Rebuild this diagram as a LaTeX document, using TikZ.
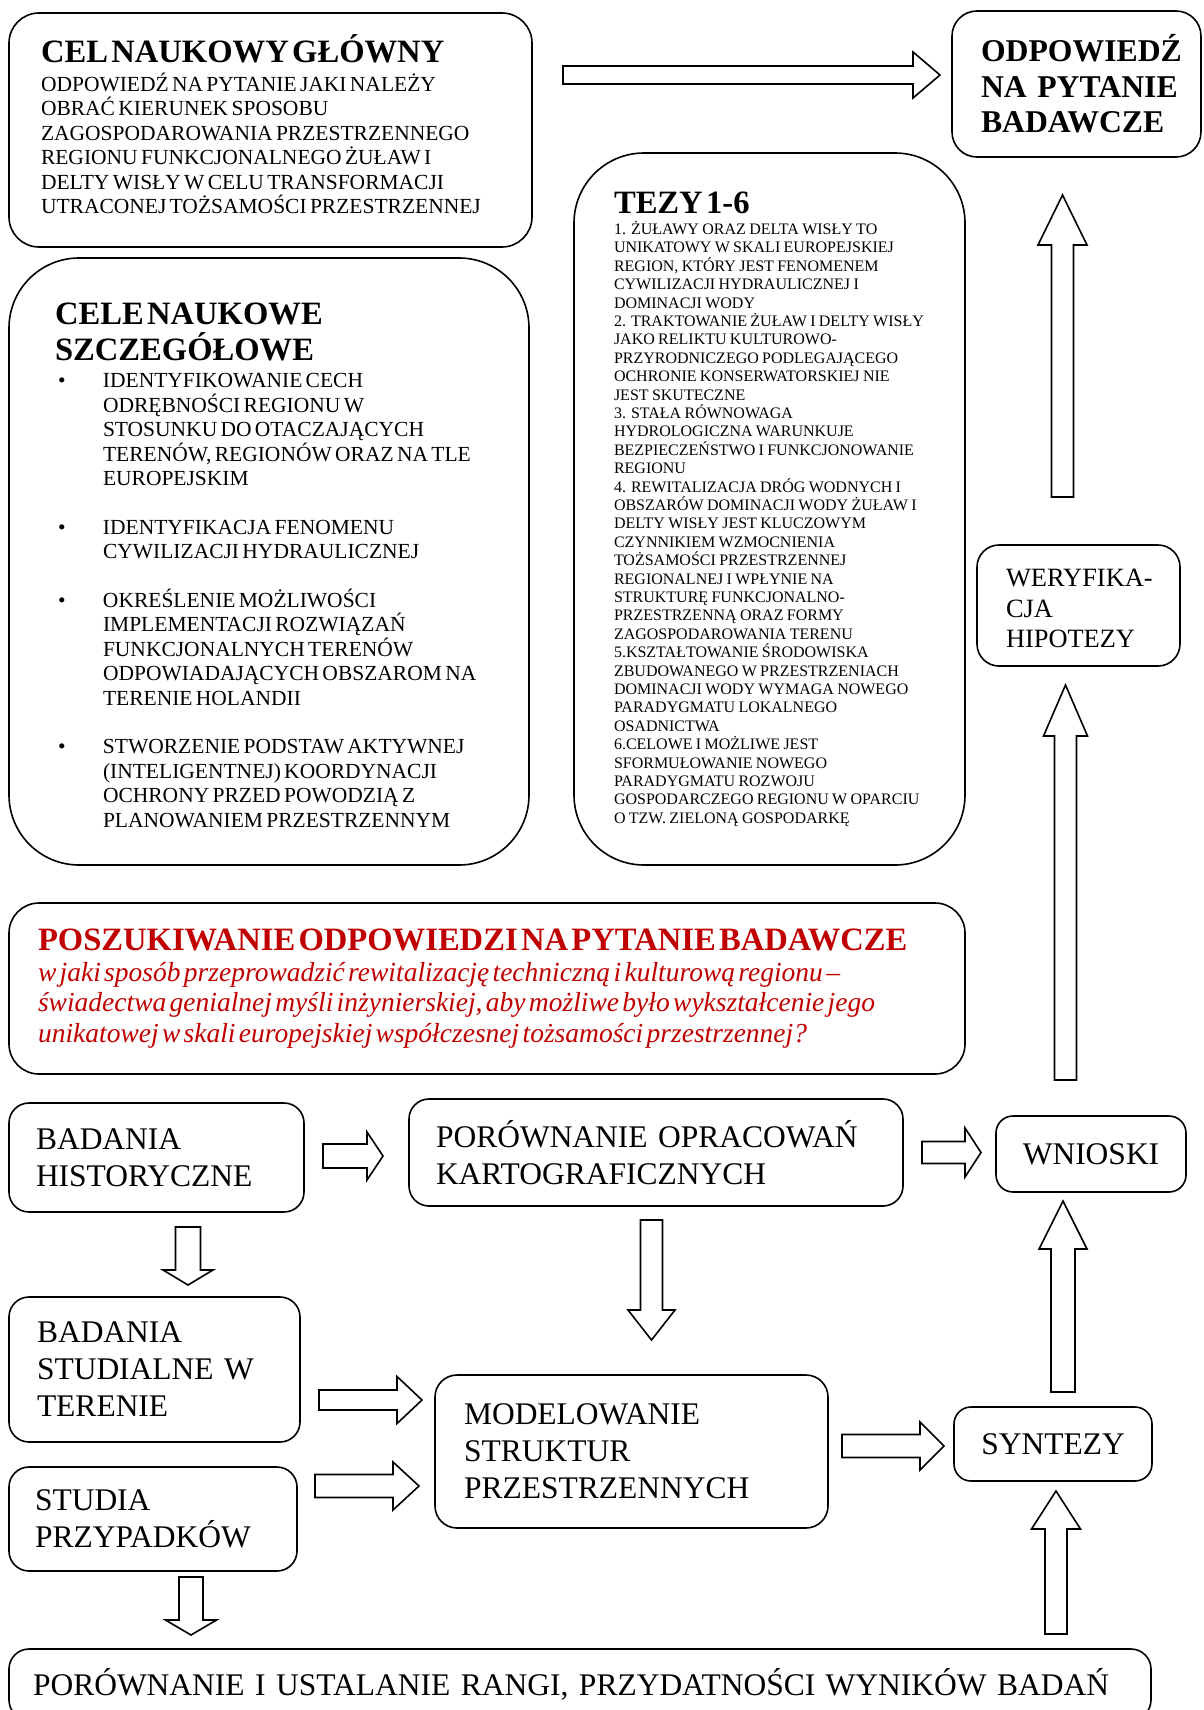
\documentclass[tikz,border=0pt]{standalone}
\usepackage{fontspec}
\setmainfont{Liberation Serif}
\usetikzlibrary{calc}
\definecolor{czerwony}{RGB}{192,0,0}
\newcommand\tytul{\fontsize{32.6}{35.5}\selectfont\bfseries}
\newcommand\odpfont{\fontsize{31.7}{35.5}\selectfont\bfseries}
\newcommand\srednia{\fontsize{21.5}{24.4}\selectfont}
\newcommand\drobna{\fontsize{16}{18.4}\selectfont}
\newcommand\duza{\fontsize{31.5}{37}\selectfont}
\newcommand\wer{\fontsize{26.4}{30.5}\selectfont}
\newcommand\pyt{\fontsize{27.5}{30.5}\selectfont\itshape}
\newcommand\kropka{\makebox[48pt][l]{\hspace*{3pt}\textbullet}}
\newcommand\wciecie{\hspace*{48pt}}
% hollow block arrow: tail, tip, shaft half width, head half width, head length
\newcommand\strzalka[5]{%
  \path (#1) coordinate (s-ogon) (#2) coordinate (s-grot);
  \path ($(s-grot)!#5!(s-ogon)$) coordinate (s-baza);
  \draw[blok] ($(s-ogon)!#3!90:(s-grot)$) -- ($(s-baza)!#3!90:(s-grot)$)
    -- ($(s-baza)!#4!90:(s-grot)$) -- (s-grot) -- ($(s-baza)!#4!-90:(s-grot)$)
    -- ($(s-baza)!#3!-90:(s-grot)$) -- ($(s-ogon)!#3!-90:(s-grot)$) -- cycle;}
\tikzset{
  ramka/.style={draw, line width=1.6pt, outer sep=0pt, inner ysep=0pt, align=left},
  blok/.style={draw, line width=1.6pt, fill=white, line join=miter},
}
\begin{document}
\begin{tikzpicture}[x=1pt,y=-1pt]
\useasboundingbox (0,0) rectangle (1203,1710);
%
\node(cel)[ramka, rounded corners=30pt, text width=459pt, inner xsep=32pt, minimum height=234pt] at (270.5,130)
{{\tytul CEL NAUKOWY GŁÓWNY\par}\vspace{4.4pt}
{\srednia ODPOWIEDŹ NA PYTANIE JAKI NALEŻY\\OBRAĆ KIERUNEK SPOSOBU\\ZAGOSPODAROWANIA PRZESTRZENNEGO\\REGIONU FUNKCJONALNEGO ŻUŁAW I\\DELTY WISŁY W CELU TRANSFORMACJI\\UTRACONEJ TOŻSAMOŚCI PRZESTRZENNEJ\rule[-11.6pt]{0pt}{11.6pt}\par}};
%
\node(odp)[ramka, rounded corners=25pt, text width=191pt, inner xsep=29pt, minimum height=146pt, font=\odpfont] at (1076.5,84)
{\mbox{ODPOWIEDŹ}\\\mbox{NA PYTANIE}\\\mbox{BADAWCZE}};
\strzalka{$(cel.east)+(31,-55)$}{$(odp.west)+(-12,-9)$}{9pt}{23pt}{27pt}
%
\node(cele)[ramka, rounded corners=70pt, text width=428pt, inner xsep=46pt, minimum height=607pt] at (269,561.5)
{{\tytul \rule{0pt}{29pt}CELE NAUKOWE\\SZCZEGÓŁOWE\par}\vspace{3.3pt}
{\srednia \kropka IDENTYFIKOWANIE CECH\\\wciecie ODRĘBNOŚCI REGIONU W\\\wciecie STOSUNKU DO OTACZAJĄCYCH\\\wciecie TERENÓW, REGIONÓW ORAZ NA TLE\\\wciecie EUROPEJSKIM\\[24.4pt]
\kropka IDENTYFIKACJA FENOMENU\\\wciecie CYWILIZACJI HYDRAULICZNEJ\\[24.4pt]
\kropka OKREŚLENIE MOŻLIWOŚCI\\\wciecie IMPLEMENTACJI ROZWIĄZAŃ\\\wciecie FUNKCJONALNYCH TERENÓW\\\wciecie ODPOWIADAJĄCYCH OBSZAROM NA\\\wciecie TERENIE HOLANDII\\[24.4pt]
\kropka STWORZENIE PODSTAW AKTYWNEJ\\\wciecie (INTELIGENTNEJ) KOORDYNACJI\\\wciecie OCHRONY PRZED POWODZIĄ Z\\\wciecie PLANOWANIEM PRZESTRZENNYM\par}};
%
\node(tezy)[ramka, rounded corners=70pt, text width=320pt, inner xsep=35.5pt, minimum height=712pt] at (769.5,509)
{\leftskip=4.5pt{\tytul TEZY 1-6\par}\vspace{3pt}
{\drobna 1. ŻUŁAWY ORAZ DELTA WISŁY TO\\UNIKATOWY W SKALI EUROPEJSKIEJ\\REGION, KTÓRY JEST FENOMENEM\\CYWILIZACJI HYDRAULICZNEJ I\\DOMINACJI WODY\\
2. TRAKTOWANIE ŻUŁAW I DELTY WISŁY\\JAKO RELIKTU KULTUROWO-\\PRZYRODNICZEGO PODLEGAJĄCEGO\\OCHRONIE KONSERWATORSKIEJ NIE\\JEST SKUTECZNE\\
3. STAŁA RÓWNOWAGA\\HYDROLOGICZNA WARUNKUJE\\BEZPIECZEŃSTWO I FUNKCJONOWANIE\\REGIONU\\
4. REWITALIZACJA DRÓG WODNYCH I\\OBSZARÓW DOMINACJI WODY ŻUŁAW I\\DELTY WISŁY JEST KLUCZOWYM\\CZYNNIKIEM WZMOCNIENIA\\TOŻSAMOŚCI PRZESTRZENNEJ\\REGIONALNEJ I WPŁYNIE NA\\STRUKTURĘ FUNKCJONALNO-\\PRZESTRZENNĄ ORAZ FORMY\\ZAGOSPODAROWANIA TERENU\\
5.KSZTAŁTOWANIE ŚRODOWISKA\\ZBUDOWANEGO W PRZESTRZENIACH\\DOMINACJI WODY WYMAGA NOWEGO\\PARADYGMATU LOKALNEGO\\OSADNICTWA\\
6.CELOWE I MOŻLIWE JEST\\SFORMUŁOWANIE NOWEGO\\PARADYGMATU ROZWOJU\\GOSPODARCZEGO REGIONU W OPARCIU\\O TZW. ZIELONĄ GOSPODARKĘ\par}};
%
\node(weryf)[ramka, rounded corners=22pt, text width=145pt, inner xsep=29pt, minimum height=121pt, font=\wer] at (1078.5,605.5)
{\rule{0pt}{24pt}\mbox{WERYFIKA-}\\CJA\\HIPOTEZY};
\strzalka{$(weryf.north)+(-16,-48)$}{$(odp.south)+(-14,38)$}{11pt}{24.5pt}{50pt}
%
\node(poszuk)[ramka, rounded corners=30pt, text width=898pt, inner xsep=29pt, minimum height=171pt, text=czerwony] at (487,988.5)
{{\tytul POSZUKIWANIE ODPOWIEDZI NA PYTANIE BADAWCZE\par}
{\pyt w jaki sposób przeprowadzić rewitalizację techniczną i kulturową regionu –\\świadectwa genialnej myśli inżynierskiej, aby możliwe było wykształcenie jego\\unikatowej w skali europejskiej współczesnej tożsamości przestrzennej?\par}};
%
\node(hist)[ramka, rounded corners=20pt, text width=241pt, inner xsep=27pt, minimum height=109pt, font=\duza] at (156.5,1157.5)
{BADANIA\\HISTORYCZNE};
\node(porown)[ramka, rounded corners=20pt, text width=440pt, inner xsep=27pt, minimum height=107pt, font=\duza] at (656,1152.5)
{PORÓWNANIE OPRACOWAŃ\\KARTOGRAFICZNYCH};
\node(wnioski)[ramka, rounded corners=17pt, align=center, minimum width=190pt, minimum height=76pt, font=\duza] at (1091,1154)
{WNIOSKI};
\strzalka{$(hist.east)+(19,-1.5)$}{$(porown.west)+(-26,3.5)$}{12pt}{24pt}{16pt}
\strzalka{$(porown.east)+(19,0)$}{$(wnioski.west)+(-15,-1.5)$}{11pt}{24.5pt}{16pt}
\strzalka{$(wnioski.north)+(-25.5,-36)$}{$(weryf.south)+(-13,19)$}{11pt}{22pt}{51pt}
%
\node(studial)[ramka, rounded corners=20pt, text width=235pt, inner xsep=28pt, minimum height=145pt, font=\duza] at (154.5,1369.5)
{BADANIA\\STUDIALNE W\\TERENIE};
\node(model)[ramka, rounded corners=22pt, text width=335pt, inner xsep=29pt, minimum height=153pt, font=\duza] at (631.5,1451.5)
{MODELOWANIE\\STRUKTUR\\PRZESTRZENNYCH};
\node(syntezy)[ramka, rounded corners=17pt, align=center, minimum width=198pt, minimum height=74pt, font=\duza] at (1053,1444)
{SYNTEZY};
\node(przyp)[ramka, rounded corners=20pt, text width=236pt, inner xsep=26pt, minimum height=104pt, font=\duza] at (153,1519)
{STUDIA\\PRZYPADKÓW};
\strzalka{$(hist.south)+(31.5,15)$}{$(studial.north)+(33.5,-12)$}{12.5pt}{25pt}{15pt}
\strzalka{$(porown.south)+(-4.5,14)$}{$(model.north)+(20,-35)$}{11pt}{23.5pt}{30pt}
\strzalka{$(studial.east)+(19,30.5)$}{$(model.west)+(-13,-51.5)$}{10pt}{23.5pt}{25pt}
\strzalka{$(przyp.east)+(18,-33)$}{$(model.west)+(-16,34.5)$}{11.5pt}{24pt}{26pt}
\strzalka{$(model.east)+(14,-5.5)$}{$(syntezy.west)+(-10,2)$}{11.5pt}{24pt}{24pt}
\strzalka{$(syntezy.north)+(10,-15)$}{$(wnioski.south)+(-28,9)$}{12pt}{24pt}{48pt}
%
\node(ranga)[ramka, rounded corners=20pt, text width=1094pt, inner xsep=24pt, minimum height=71pt, font=\duza] at (580,1684.5)
{PORÓWNANIE I USTALANIE RANGI, PRZYDATNOŚCI WYNIKÓW BADAŃ};
\strzalka{$(przyp.south)+(38,6)$}{$(ranga.north west)+(182,-14)$}{12pt}{25.5pt}{15pt}
\strzalka{$(ranga.north east)+(-95,-15)$}{$(syntezy.south)+(3,10)$}{11pt}{24.5pt}{38pt}
\end{tikzpicture}
\end{document}
